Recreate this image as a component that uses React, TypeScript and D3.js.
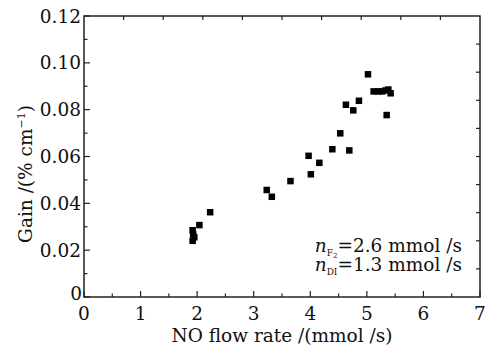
import * as d3 from "d3";
import React from "react";

// NO flow rate (mmol/s) vs gain (% cm^-1)
const flowRate = [
  1.92, 1.93, 1.95, 1.92, 2.04, 2.23,
  3.23, 3.32, 3.65, 3.97, 4.01, 4.16, 4.39, 4.53, 4.63, 4.69, 4.76, 4.86,
  5.02, 5.12, 5.2, 5.27, 5.33, 5.38, 5.42, 5.35,
];
const gain = [
  0.0285, 0.0268, 0.0255, 0.024, 0.0307, 0.0362,
  0.0457, 0.0428, 0.0495, 0.0603, 0.0524, 0.0573, 0.0631, 0.0699, 0.0821, 0.0626, 0.0797, 0.0838,
  0.0951, 0.0878, 0.0878, 0.0878, 0.0882, 0.0886, 0.087, 0.0777,
];
const xTicks = [0, 1, 2, 3, 4, 5, 6, 7];
const yTicks = [0, 0.02, 0.04, 0.06, 0.08, 0.1, 0.12];

export default function App() {
  const width = 488;
  const height = 348;
  const margin = { top: 16, right: 8, bottom: 51, left: 84 };

  const x = d3.scaleLinear().domain([0, 7]).range([margin.left, width - margin.right]);
  const y = d3.scaleLinear().domain([0, 0.12]).range([height - margin.bottom, margin.top]);

  const x0 = x(0), x1 = x(7), y0 = y(0), y1 = y(0.12);
  const font = "'DejaVu Serif', serif";
  const ink = "#222";
  const fs = 18.5;

  const xMinor = d3.range(0.5, 7, 1);
  const yMinor = d3.range(0.01, 0.12, 0.02);
  const topTicks = d3.range(1, 10).map((k) => k * 0.7);
  const rightTicks = d3.range(1, 10).map((k) => k * 0.012);
  const sz = 6.5;

  return (
    <svg
      width={width}
      height={height}
      style={{ position: "absolute", left: 0, top: 0, background: "#fff" }}
      fontFamily={font}
    >
      {/* frame */}
      <rect x={x0} y={y1} width={x1 - x0} height={y0 - y1} fill="none" stroke={ink} strokeWidth={1.5} />

      {/* bottom ticks */}
      {xTicks.map((t) => (
        <line key={"xb" + t} x1={x(t)} x2={x(t)} y1={y0} y2={y0 - 6} stroke={ink} strokeWidth={1.2} />
      ))}
      {xMinor.map((t) => (
        <line key={"xm" + t} x1={x(t)} x2={x(t)} y1={y0} y2={y0 - 3.5} stroke={ink} strokeWidth={1.2} />
      ))}
      {/* left ticks */}
      {yTicks.map((t) => (
        <line key={"yl" + t} x1={x0} x2={x0 + 6} y1={y(t)} y2={y(t)} stroke={ink} strokeWidth={1.2} />
      ))}
      {yMinor.map((t) => (
        <line key={"ym" + t} x1={x0} x2={x0 + 3.5} y1={y(t)} y2={y(t)} stroke={ink} strokeWidth={1.2} />
      ))}
      {/* top ticks */}
      {topTicks.map((t) => (
        <line key={"xt" + t} x1={x(t)} x2={x(t)} y1={y1} y2={y1 + 4} stroke={ink} strokeWidth={1.2} />
      ))}
      {/* right ticks */}
      {rightTicks.map((t) => (
        <line key={"yr" + t} x1={x1} x2={x1 - 4} y1={y(t)} y2={y(t)} stroke={ink} strokeWidth={1.2} />
      ))}

      {/* tick labels */}
      {xTicks.map((t) => (
        <text key={"xl" + t} x={x(t)} y={y0 + 23} textAnchor="middle" fontSize={fs} fill="#111">
          {t}
        </text>
      ))}
      {yTicks.map((t) => (
        <text
          key={"yt" + t}
          x={t === 0 ? x0 - 2 : x0 - 3}
          y={t === 0 ? y(t) + 3 : y(t) + 6.5}
          textAnchor="end"
          fontSize={fs}
          fill="#111"
        >
          {t === 0 ? "0" : d3.format(".2f")(t)}
        </text>
      ))}

      {/* axis titles */}
      <text x={(x0 + x1) / 2} y={342} textAnchor="middle" fontSize={fs} fill="#111">
        NO flow rate /(mmol /s)
      </text>
      <text
        transform={`translate(32,174) rotate(-90)`}
        textAnchor="middle"
        fontSize={fs}
        fill="#111"
      >
        Gain /(% cm
        <tspan fontSize={11} dy={-7}>−1</tspan>
        <tspan dy={7}>)</tspan>
      </text>

      {/* markers */}
      {flowRate.map((f, i) => (
        <rect key={"p" + i} x={x(f) - sz / 2} y={y(gain[i]) - sz / 2} width={sz} height={sz} fill="#000" />
      ))}

      {/* annotation */}
      <text x={462} y={252} textAnchor="end" fontSize={fs} fill="#111">
        <tspan fontStyle="italic">n</tspan>
        <tspan fontSize={9} dy={4}>F</tspan>
        <tspan fontSize={7} dy={2}>2</tspan>
        <tspan dy={-6}>=2.6 mmol /s</tspan>
      </text>
      <text x={462} y={271} textAnchor="end" fontSize={fs} fill="#111">
        <tspan fontStyle="italic">n</tspan>
        <tspan fontSize={9} dy={4}>DI</tspan>
        <tspan dy={-4}>=1.3 mmol /s</tspan>
      </text>
    </svg>
  );
}
